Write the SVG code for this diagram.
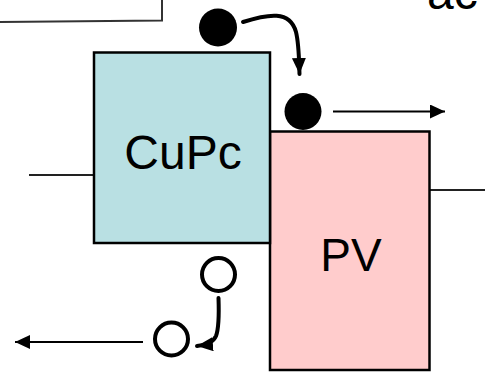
<svg xmlns="http://www.w3.org/2000/svg" width="485" height="372" viewBox="0 0 485 372">
<style>
.box{stroke:#000;stroke-width:2.5}
.lbl{font-family:"Liberation Sans",Arial,sans-serif;font-size:46px;fill:#000}
.lead{stroke:#222;stroke-width:2.2;fill:none}
.curve{stroke:#000;stroke-width:4;fill:none;stroke-linecap:round}
.thin{stroke:#000;stroke-width:2;fill:none}
.hole{fill:none;stroke:#000;stroke-width:4}
</style>
<defs>
<marker id="ahBig" markerUnits="userSpaceOnUse" markerWidth="18" markerHeight="16" refX="16" refY="7" orient="auto">
<path d="M0,0 L16,7 L0,14 Z" fill="#000"/>
</marker>
<marker id="ahThin" markerUnits="userSpaceOnUse" markerWidth="17" markerHeight="16" refX="15" refY="7" orient="auto">
<path d="M0,0 L15,7 L0,14 Z" fill="#000"/>
</marker>
</defs>
<g id="frame">
<path d="M0,22 L162,20.5 L162,0" fill="none" stroke="#333" stroke-width="2"/>
</g>
<text class="lbl" x="427" y="9" style="font-size:48px">ac</text>
<g id="connectors">
<line class="lead" x1="29" y1="175" x2="94" y2="175"/>
<line class="lead" x1="430" y1="190" x2="485" y2="190"/>
<path class="curve" d="M243,22 C268,14 290,10 296,32 C299,44 299,60 299.5,74" marker-end="url(#ahBig)"/>
<line class="thin" x1="333" y1="111.5" x2="445" y2="111.5" marker-end="url(#ahThin)"/>
<path class="curve" d="M218.5,298 C219,312 219,328 216,336 C213,343 206,345 197,346" marker-end="url(#ahBig)"/>
<line class="thin" x1="143" y1="342" x2="15" y2="342" marker-end="url(#ahThin)"/>
</g>
<g id="PV">
<rect class="box" x="270" y="131.5" width="159.5" height="238.5" fill="#FFCCCC"/>
<text class="lbl" x="351" y="271" text-anchor="middle">PV</text>
</g>
<g id="CuPc">
<rect class="box" x="94" y="52.5" width="176" height="190.5" fill="#B9E0E3"/>
<text class="lbl" x="183" y="169" text-anchor="middle" style="font-size:48px">CuPc</text>
</g>
<g id="electron1"><circle cx="218" cy="27.5" r="19" fill="#000"/></g>
<g id="electron2"><circle cx="303" cy="111.5" r="18.5" fill="#000"/></g>
<g id="hole1"><circle class="hole" cx="218.5" cy="274.5" r="16.5"/></g>
<g id="hole2"><circle class="hole" cx="171.5" cy="339" r="16.5"/></g>
</svg>
